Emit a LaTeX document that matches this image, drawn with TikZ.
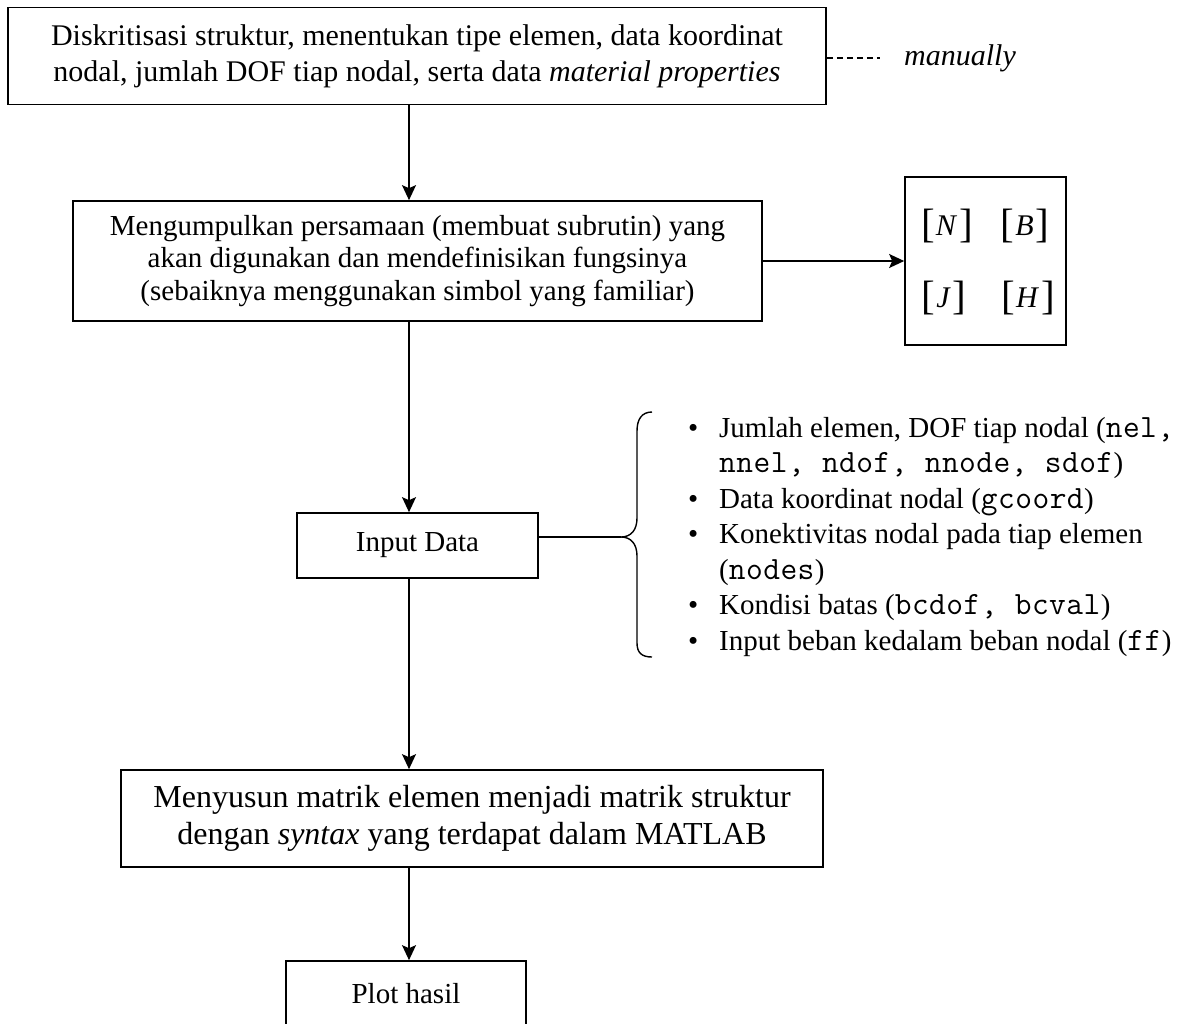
\documentclass[tikz,border=0pt]{standalone}
\usepackage{fontspec}
\setmainfont{Liberation Serif}
\setmonofont{Latin Modern Mono}[Scale=1.12,LetterSpace=1.5]
\usetikzlibrary{arrows.meta}
\newcommand{\bk}[1]{{\fontsize{41pt}{41pt}\selectfont\raisebox{-2pt}{[}}\kern1pt\textit{#1}\kern2pt{\fontsize{41pt}{41pt}\selectfont\raisebox{-2pt}{]}}}
\newcommand{\bul}{\makebox[31pt][l]{\textbullet}}
\begin{document}
\begin{tikzpicture}[x=1pt,y=-1pt,
  box/.style={draw, line width=1.7pt, inner sep=0pt, align=center},
  conn/.style={line width=1.4pt},
  arr/.style={conn, -{Stealth[length=15pt,width=14pt,inset=3pt]}},
  fA/.style={font=\fontsize{30pt}{36pt}\selectfont},
  fB/.style={font=\fontsize{29pt}{32.5pt}\selectfont},
  fC/.style={font=\fontsize{32pt}{37.5pt}\selectfont},
  fL/.style={font=\fontsize{29pt}{35.5pt}\selectfont},
  fM/.style={font=\fontsize{30pt}{30pt}\selectfont}]
\fill[white] (0,0) rectangle (1193,1023);
\useasboundingbox (0,0) rectangle (1193,1023);
\coordinate (ax) at (409,0);

\node[box, fA, minimum width=818pt, minimum height=97pt] (b1) at (417,56)
  {Diskritisasi struktur, menentukan tipe elemen, data koordinat\\nodal, jumlah DOF tiap nodal, serta data \textit{material properties}};
\node[fA, anchor=west, inner xsep=0pt, inner ysep=0pt] (man) at (904,58) {\textit{manually}};
\draw[conn, dash pattern=on 6pt off 4pt] (b1.east |- man.west) -- ([xshift=-24pt]man.west);

\node[box, fB, minimum width=689pt, minimum height=120pt] (b2) at (417.5,261)
  {Mengumpulkan persamaan (membuat subrutin) yang\\akan digunakan dan mendefinisikan fungsinya\\(sebaiknya menggunakan simbol yang familiar)};
\node[box, minimum width=161pt, minimum height=168pt] (mat) at (985.5,261) {};
\node[fM] (mN) at (947,226) {\bk{N}};
\node[fM] (mB) at (1025,226) {\bk{B}};
\node[fM] (mJ) at (944,298) {\bk{J}};
\node[fM] (mH) at (1028,298) {\bk{H}};
\draw[arr] (b2.east) -- (mat.west |- b2.east);

\node[box, fB, minimum width=241pt, minimum height=65pt] (b3) at (417.5,545.5) {Input Data};
\coordinate (cusp) at (621,537);
\draw[conn] (b3.east |- cusp) -- (cusp);
\draw[conn] (652,412) .. controls (642,412) and (637,419) .. (637,431) -- (637,518)
  .. controls (637,530) and (631,537) .. (cusp)
  .. controls (631,537) and (637,544) .. (637,556) -- (637,643)
  .. controls (637,653) and (642,657) .. (652,657);
\node[fL, anchor=north west, inner sep=0pt, align=left] (list) at (688,417)
  {\bul Jumlah elemen, DOF tiap nodal (\texttt{nel,}\\
   \hspace*{31pt}\texttt{nnel, ndof, nnode, sdof})\\
   \bul Data koordinat nodal (\texttt{gcoord})\\
   \bul Konektivitas nodal pada tiap elemen\\
   \hspace*{31pt}(\texttt{nodes})\\
   \bul Kondisi batas (\texttt{bcdof, bcval})\\
   \bul Input beban kedalam beban nodal (\texttt{ff})};

\node[box, fC, minimum width=702pt, minimum height=97pt] (b4) at (472,818.5)
  {Menyusun matrik elemen menjadi matrik struktur\\dengan \textit{syntax} yang terdapat dalam MATLAB};
\node[box, fB, minimum width=240pt, minimum height=66pt] (b5) at (406,994) {Plot hasil};

\draw[arr] (b1.south -| ax) -- (b2.north -| ax);
\draw[arr] (b2.south -| ax) -- (b3.north -| ax);
\draw[arr] (b3.south -| ax) -- (b4.north -| ax);
\draw[arr] (b4.south -| ax) -- (b5.north -| ax);
\end{tikzpicture}
\end{document}
